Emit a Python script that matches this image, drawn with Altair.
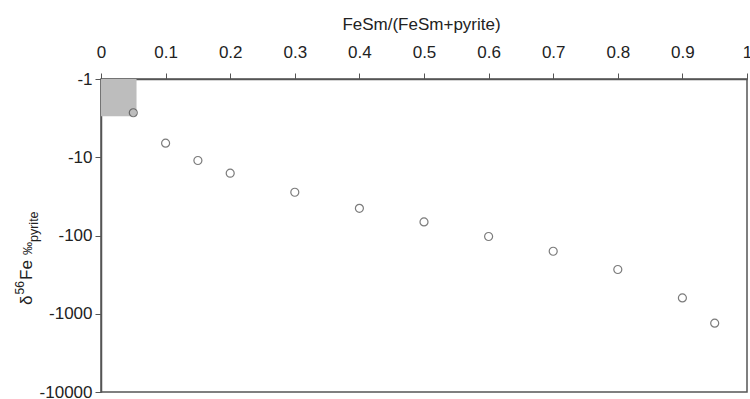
import altair as alt
import pandas as pd

# FeSm fraction and resulting pyrite delta-56Fe (per mil)
frac = [0.05, 0.1, 0.15, 0.2, 0.3, 0.4, 0.5, 0.6, 0.7, 0.8, 0.9, 0.95]
delta = [-2.7, -6.6, -11, -16, -28, -45, -67, -103, -159, -272, -627, -1318]

# shaded field in the upper-left corner
shade_x = [0.0, 0.055]
shade_y = [-1, -3]

x_ticks = [0, 0.1, 0.2, 0.3, 0.4, 0.5, 0.6, 0.7, 0.8, 0.9, 1]
y_ticks = [-1, -10, -100, -1000, -10000]

FONT = "Liberation Sans"
TXT = "#222222"
LINE = "#555555"

pts = pd.DataFrame({"frac": frac, "delta": delta})
shade = pd.DataFrame({"x": [shade_x[0]], "x2": [shade_x[1]],
                      "y": [shade_y[0]], "y2": [shade_y[1]]})

xscale = alt.Scale(domain=[0, 1], nice=False, zero=False)
yscale = alt.Scale(type="log", domain=[-10000, -1], nice=False)

x_axis = alt.Axis(
    orient="top", values=x_ticks, labelExpr="format(datum.value, '~g')",
    grid=False, tickSize=6, tickColor=LINE, domainColor=LINE, domainWidth=1.5,
    labelPadding=12, labelFont=FONT, labelFontSize=17, labelColor=TXT,
    labelFlush=False, labelOverlap=False,
    title="FeSm/(FeSm+pyrite)", titleFont=FONT, titleFontSize=17,
    titleFontWeight="normal", titleColor=TXT, titleX=320, titleY=-49.5,
    titleBaseline="alphabetic",
)
y_axis = alt.Axis(
    values=y_ticks, labelExpr="'-' + format(abs(datum.value), 'd')",
    grid=False, tickSize=6, tickColor=LINE, domainColor=LINE, domainWidth=1.5,
    labelPadding=3, labelFont=FONT, labelFontSize=17, labelColor=TXT,
    labelFlush=False, labelOverlap=False,
    title=None,
)

rect = alt.Chart(shade).mark_rect(color="#bdbdbd").encode(
    x=alt.X("x:Q", scale=xscale, axis=x_axis),
    x2="x2:Q",
    y=alt.Y("y:Q", scale=yscale, axis=y_axis),
    y2="y2:Q",
)

points = alt.Chart(pts).mark_point(
    shape="circle", filled=False, size=64, stroke="#444444", strokeWidth=1.2
).encode(
    x=alt.X("frac:Q", scale=xscale),
    y=alt.Y("delta:Q", scale=yscale),
)


def title_piece(text, px, py, size):
    # one fragment of the rotated y-axis title
    return alt.Chart(pd.DataFrame({"t": [text]})).mark_text(
        angle=270, align="left", baseline="alphabetic",
        font=FONT, fontSize=size, color=TXT,
    ).encode(x=alt.value(px), y=alt.value(py), text="t:N")


ytitle = [
    title_piece("δ", -69, 226, 17),
    title_piece("56", -77, 215.5, 12),
    title_piece("Fe", -69, 201, 17),
    title_piece("‰", -69, 176, 13),
    title_piece("pyrite", -63, 163, 12.5),
]

chart = alt.layer(rect, points, *ytitle).properties(
    width=646, height=313,
    autosize=alt.AutoSizeParams(type="none"),
    padding={"left": 101, "top": 79, "right": 3, "bottom": 7},
    background="white",
).configure_view(stroke=LINE, strokeWidth=1.5)

chart.save("out.html", embed_options={"renderer": "svg", "actions": False})
